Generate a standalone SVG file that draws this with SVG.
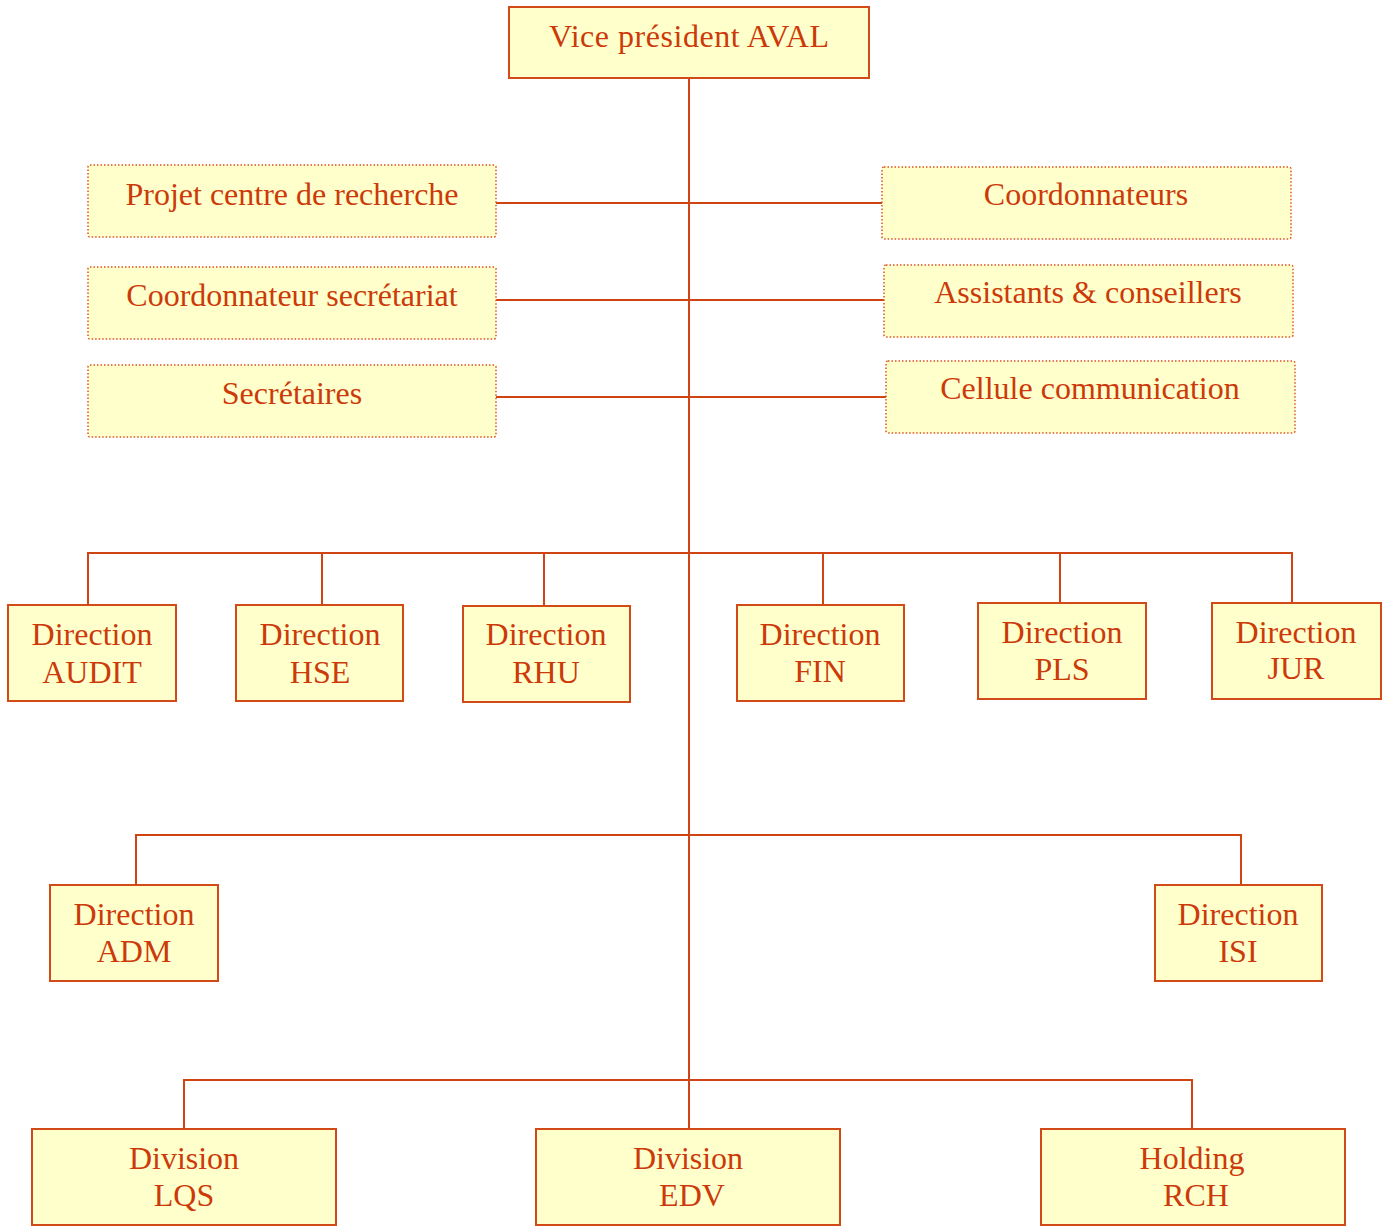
<svg xmlns="http://www.w3.org/2000/svg" width="1387" height="1226" viewBox="0 0 1387 1226">
<style>
.box{fill:#FFFFCC;stroke:#D24A18;stroke-width:2}
.dot{fill:#FFFFCC;stroke:#E0541C;stroke-width:1.5;stroke-dasharray:1.5,2}
.ln{stroke:#D04414;stroke-width:2;fill:none}
text{font-family:"Liberation Serif","Times New Roman",serif;font-size:32px;fill:#CC3A0A;text-anchor:middle}
</style>
<rect width="1387" height="1226" fill="#FFFFFF"/>
<g id="connectors">
<line class="ln" x1="689" y1="78" x2="689" y2="1129"/>
<line class="ln" x1="496" y1="203" x2="882" y2="203"/>
<line class="ln" x1="496" y1="300" x2="884" y2="300"/>
<line class="ln" x1="496" y1="397" x2="886" y2="397"/>
<polyline class="ln" points="88,605 88,553 1292,553 1292,603"/>
<line class="ln" x1="322" y1="553" x2="322" y2="605"/>
<line class="ln" x1="544" y1="553" x2="544" y2="606"/>
<line class="ln" x1="823" y1="553" x2="823" y2="605"/>
<line class="ln" x1="1060" y1="553" x2="1060" y2="603"/>
<polyline class="ln" points="136,885 136,835 1241,835 1241,885"/>
<polyline class="ln" points="184,1129 184,1080 1192,1080 1192,1129"/>
</g>
<g id="vp"><rect class="box" x="509" y="7" width="360" height="71"/><text x="689" y="47" textLength="280" lengthAdjust="spacing">Vice président AVAL</text></g>
<g id="projet"><rect class="dot" x="88" y="165" width="408" height="72" rx="2"/><text x="292" y="205">Projet centre de recherche</text></g>
<g id="coordsec"><rect class="dot" x="88" y="267" width="408" height="72" rx="2"/><text x="292" y="306">Coordonnateur secrétariat</text></g>
<g id="secretaires"><rect class="dot" x="88" y="365" width="408" height="72" rx="2"/><text x="292" y="404">Secrétaires</text></g>
<g id="coordonnateurs"><rect class="dot" x="882" y="167" width="409" height="72" rx="2"/><text x="1086" y="205">Coordonnateurs</text></g>
<g id="assistants"><rect class="dot" x="884" y="265" width="409" height="72" rx="2"/><text x="1088" y="303">Assistants &amp; conseillers</text></g>
<g id="cellule"><rect class="dot" x="886" y="361" width="409" height="72" rx="2"/><text x="1090" y="399">Cellule communication</text></g>
<g id="audit"><rect class="box" x="8" y="605" width="168" height="96"/><text x="92" y="645">Direction</text><text x="92" y="683">AUDIT</text></g>
<g id="hse"><rect class="box" x="236" y="605" width="167" height="96"/><text x="320" y="645">Direction</text><text x="320" y="683">HSE</text></g>
<g id="rhu"><rect class="box" x="463" y="606" width="167" height="96"/><text x="546" y="645">Direction</text><text x="546" y="683">RHU</text></g>
<g id="fin"><rect class="box" x="737" y="605" width="167" height="96"/><text x="820" y="645">Direction</text><text x="820" y="682">FIN</text></g>
<g id="pls"><rect class="box" x="978" y="603" width="168" height="96"/><text x="1062" y="643">Direction</text><text x="1062" y="680">PLS</text></g>
<g id="jur"><rect class="box" x="1212" y="603" width="169" height="96"/><text x="1296" y="643">Direction</text><text x="1296" y="679">JUR</text></g>
<g id="adm"><rect class="box" x="50" y="885" width="168" height="96"/><text x="134" y="925">Direction</text><text x="134" y="962">ADM</text></g>
<g id="isi"><rect class="box" x="1155" y="885" width="167" height="96"/><text x="1238" y="925">Direction</text><text x="1238" y="962">ISI</text></g>
<g id="lqs"><rect class="box" x="32" y="1129" width="304" height="96"/><text x="184" y="1169">Division</text><text x="184" y="1206">LQS</text></g>
<g id="edv"><rect class="box" x="536" y="1129" width="304" height="96"/><text x="688" y="1169">Division</text><text x="692" y="1206">EDV</text></g>
<g id="rch"><rect class="box" x="1041" y="1129" width="304" height="96"/><text x="1192" y="1169">Holding</text><text x="1196" y="1206">RCH</text></g>
</svg>
